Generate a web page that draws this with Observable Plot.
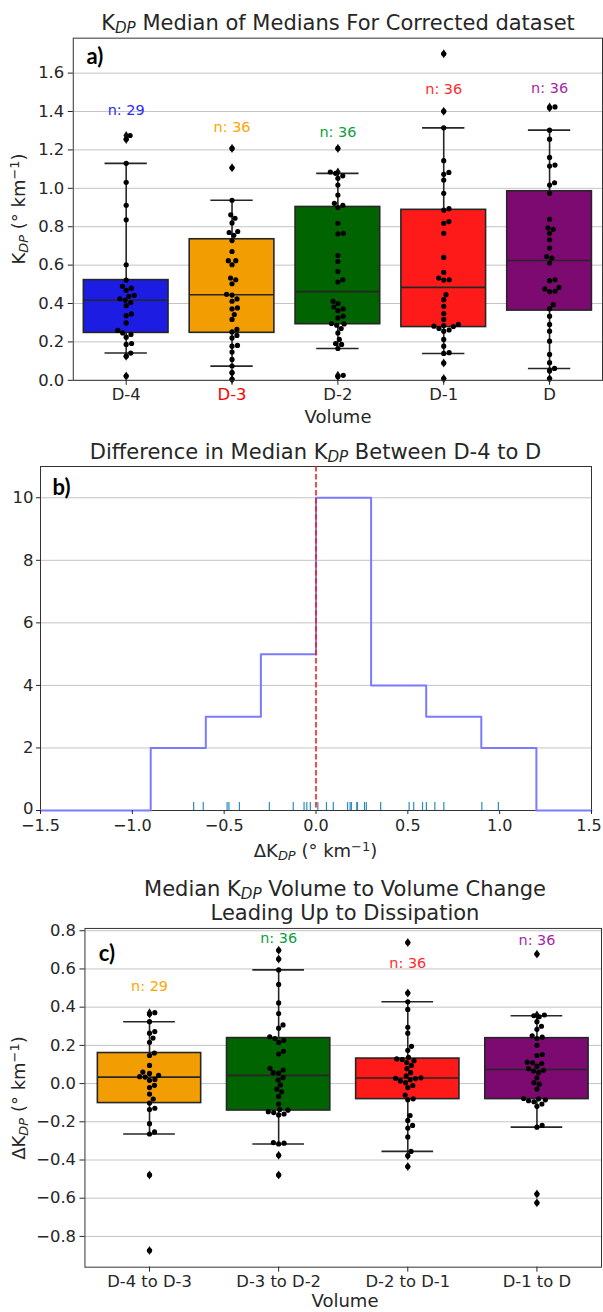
<!DOCTYPE html>
<html><head><meta charset="utf-8">
<script src="https://cdn.jsdelivr.net/npm/d3@7"></script>
<script src="https://cdn.jsdelivr.net/npm/@observablehq/plot@0.6"></script>
<style>
html,body{margin:0;padding:0;background:#fff;}
#root{position:relative;width:603px;height:1312px;overflow:hidden;font-family:"DejaVu Sans",sans-serif;color:#262626;background:#fff;}
.lbl{position:absolute;white-space:nowrap;transform:translate(-50%,-50%);line-height:1;text-align:center;}
.sub{font-size:0.72em;font-style:italic;position:relative;top:0.22em;line-height:0;}
.sup{font-size:0.72em;position:relative;top:-0.45em;line-height:0;}
.tag{font-family:Lato,"Open Sans",sans-serif;font-weight:bold;color:#000;}
svg.panel{position:absolute;left:0;}
</style></head>
<body><div id="root"></div>
<script>
// ---------- Panel a: KDP median of medians ----------
const volumeCats = ["D-4", "D-3", "D-2", "D-1", "D"];
const kdpD4 = [0.022, 0.126, 0.142, 0.187, 0.192, 0.225, 0.239, 0.247, 0.260, 0.299, 0.337, 0.346, 0.389, 0.405, 0.417, 0.425, 0.438, 0.443, 0.469, 0.480, 0.490, 0.522, 0.602, 0.836, 0.912, 1.031, 1.130, 1.255, 1.275];
const kdpD3 = [0.005, 0.040, 0.074, 0.109, 0.147, 0.178, 0.182, 0.221, 0.234, 0.252, 0.265, 0.317, 0.343, 0.372, 0.377, 0.412, 0.424, 0.444, 0.448, 0.503, 0.524, 0.533, 0.602, 0.623, 0.623, 0.671, 0.728, 0.755, 0.770, 0.775, 0.820, 0.844, 0.862, 0.938, 1.107, 1.208];
const kdpD2 = [0.020, 0.026, 0.166, 0.187, 0.192, 0.213, 0.247, 0.270, 0.287, 0.294, 0.296, 0.325, 0.334, 0.363, 0.372, 0.382, 0.400, 0.412, 0.512, 0.524, 0.567, 0.619, 0.650, 0.763, 0.766, 0.818, 0.900, 0.912, 0.922, 0.965, 1.017, 1.052, 1.065, 1.078, 1.085, 1.208];
const kdpD1 = [0.009, 0.090, 0.140, 0.144, 0.178, 0.213, 0.256, 0.262, 0.270, 0.280, 0.282, 0.285, 0.291, 0.317, 0.348, 0.386, 0.420, 0.446, 0.522, 0.524, 0.533, 0.562, 0.640, 0.766, 0.818, 0.827, 0.886, 0.894, 0.974, 1.043, 1.073, 1.083, 1.144, 1.315, 1.401, 1.701];
const kdpD0 = [0.009, 0.050, 0.062, 0.092, 0.135, 0.204, 0.256, 0.291, 0.334, 0.373, 0.394, 0.462, 0.464, 0.476, 0.484, 0.519, 0.524, 0.611, 0.637, 0.645, 0.689, 0.732, 0.766, 0.787, 0.794, 0.839, 0.974, 1.017, 1.029, 1.116, 1.121, 1.161, 1.256, 1.303, 1.420, 1.424];
const volumeFills = ["#1c1ce2", "#f29e02", "#006400", "#ff1a1a", "#7c0a70"];
const volumeCountColors = ["#2a2aff", "#ffa500", "#0aa03c", "#ff2a2a", "#a626a6"];
const volumeCountY = [1.405, 1.32, 1.29, 1.514, 1.52];
const kdpTicks = [0, 0.2, 0.4, 0.6, 0.8, 1.0, 1.2, 1.4, 1.6];

// ---------- Panel b: difference D-4 to D ----------
const deltaD4toD = [-0.666, -0.614, -0.484, -0.474, -0.417, -0.254, -0.124, -0.065, -0.050, -0.031, 0.010, 0.057, 0.094, 0.172, 0.186, 0.193, 0.222, 0.226, 0.264, 0.274, 0.352, 0.507, 0.532, 0.580, 0.601, 0.647, 0.696, 0.903, 0.993];
const binEdges = [-1.5, -1.2, -0.9, -0.6, -0.3, 0.0, 0.3, 0.6, 0.9, 1.2, 1.5];
const binCounts = [0, 0, 2, 3, 5, 10, 4, 3, 2, 0];
const histXTicks = [-1.5, -1.0, -0.5, 0.0, 0.5, 1.0, 1.5];
const histYTicks = [0, 2, 4, 6, 8, 10];

// ---------- Panel c: volume to volume change ----------
const changeCats = ["D-4 to D-3", "D-3 to D-2", "D-2 to D-1", "D-1 to D"];
const chgD4D3 = [-0.874, -0.478, -0.264, -0.253, -0.210, -0.136, -0.129, -0.102, -0.081, -0.055, -0.021, -0.009, 0.017, 0.022, 0.034, 0.036, 0.043, 0.053, 0.060, 0.095, 0.147, 0.160, 0.216, 0.238, 0.264, 0.272, 0.324, 0.364, 0.371];
const chgD3D2 = [-0.478, -0.375, -0.316, -0.312, -0.309, -0.164, -0.159, -0.152, -0.147, -0.139, -0.136, -0.107, -0.067, -0.043, -0.029, -0.007, 0.019, 0.031, 0.055, 0.057, 0.071, 0.080, 0.155, 0.169, 0.215, 0.226, 0.236, 0.245, 0.290, 0.307, 0.367, 0.422, 0.519, 0.595, 0.652, 0.698];
const chgD2D1 = [-0.434, -0.378, -0.355, -0.279, -0.233, -0.219, -0.193, -0.167, -0.085, -0.080, -0.060, -0.021, -0.010, 0.005, 0.014, 0.020, 0.026, 0.028, 0.030, 0.040, 0.057, 0.078, 0.095, 0.110, 0.120, 0.126, 0.129, 0.137, 0.174, 0.195, 0.264, 0.295, 0.388, 0.428, 0.474, 0.738];
const chgD1D0 = [-0.624, -0.578, -0.228, -0.219, -0.119, -0.107, -0.095, -0.090, -0.085, -0.080, -0.078, -0.029, -0.003, 0.005, 0.030, 0.057, 0.066, 0.070, 0.078, 0.091, 0.105, 0.109, 0.112, 0.147, 0.152, 0.200, 0.236, 0.243, 0.250, 0.284, 0.300, 0.324, 0.350, 0.355, 0.359, 0.678];
const changeFills = ["#f29e02", "#006400", "#ff1a1a", "#7c0a70"];
const changeCountColors = ["#ffa500", "#0aa03c", "#ff2a2a", "#a626a6"];
const changeCountY = [0.507, 0.758, 0.629, 0.750];
const changeTicks = [-0.8, -0.6, -0.4, -0.2, 0.0, 0.2, 0.4, 0.6, 0.8];

// ---------- helpers ----------
const root = document.getElementById("root");
const INK = "#262626";
const fmt1 = d3.format(".1f");

function boxStats(vals) {
  const s = vals.slice().sort(d3.ascending);
  const lo = d3.quantileSorted(s, 0.05), hi = d3.quantileSorted(s, 0.95);
  const whislo = d3.min(s.filter(v => v >= lo - 1e-12));
  const whishi = d3.max(s.filter(v => v <= hi + 1e-12));
  return {
    n: s.length,
    q1: d3.quantileSorted(s, 0.25), med: d3.quantileSorted(s, 0.5), q3: d3.quantileSorted(s, 0.75),
    whislo, whishi, fliers: s.filter(v => v < whislo || v > whishi)
  };
}

function swarm(vals, ypx, r) {
  const d = 2 * r + 0.3;
  const order = vals.map((v, k) => k).sort((a, b) => vals[a] - vals[b]);
  const placed = [], out = new Array(vals.length);
  for (const k of order) {
    const y = ypx(vals[k]);
    const near = placed.filter(p => Math.abs(p.y - y) < d);
    const cands = [0];
    for (const p of near) {
      const dx = Math.sqrt(d * d - (p.y - y) ** 2);
      cands.push(p.x + dx, p.x - dx);
    }
    cands.sort((a, b) => Math.abs(a) - Math.abs(b));
    let x = 0;
    for (const c of cands) {
      if (near.every(p => (p.x - c) ** 2 + (p.y - y) ** 2 >= d * d - 1e-6)) { x = c; break; }
    }
    placed.push({x, y});
    out[k] = x;
  }
  return out;
}

const thinDiamond = {
  draw(ctx, size) {
    const h = Math.sqrt(size) * 0.8, w = h * 0.62;
    ctx.moveTo(0, -h); ctx.lineTo(w, 0); ctx.lineTo(0, h); ctx.lineTo(-w, 0); ctx.closePath();
  }
};

const baseStyle = {fontFamily: "DejaVu Sans", fontSize: "16px", color: INK, background: "transparent", overflow: "visible"};

function boxPanel(cfg) {
  const {cats, series, fills, countY, countColors, ticks, domain, W, H, mt, mr, mb, ml} = cfg;
  const n = cats.length;
  const stats = series.map((v, i) => ({i, ...boxStats(v)}));
  const frameW = W - ml - mr, frameH = H - mt - mb;
  const step = frameW / n;
  const ypx = d3.scaleLinear(domain, [frameH, 0]);
  const r = 2.6;
  const dots = [];
  series.forEach((vals, i) => {
    const off = swarm(vals, ypx, r);
    vals.forEach((v, k) => dots.push({x: i + off[k] / step, y: v}));
  });
  const fliers = stats.flatMap(s => s.fliers.map(v => ({i: s.i, v})));
  const line = {stroke: INK, strokeWidth: 1.6};
  return Plot.plot({
    width: W, height: H, marginTop: mt, marginRight: mr, marginBottom: mb, marginLeft: ml,
    x: {domain: [-0.5, n - 0.5]},
    y: {domain},
    color: {type: "identity"},
    style: baseStyle,
    marks: [
      Plot.gridY(ticks, {stroke: "#c4c4c4", strokeOpacity: 1, strokeWidth: 1}),
      Plot.rect(stats, {x1: d => d.i - 0.4, x2: d => d.i + 0.4, y1: "q1", y2: "q3", fill: d => fills[d.i], ...line}),
      Plot.ruleX(stats, {x: "i", y1: "whislo", y2: "q1", ...line}),
      Plot.ruleX(stats, {x: "i", y1: "q3", y2: "whishi", ...line}),
      Plot.ruleY(stats, {y: "whislo", x1: d => d.i - 0.2, x2: d => d.i + 0.2, ...line}),
      Plot.ruleY(stats, {y: "whishi", x1: d => d.i - 0.2, x2: d => d.i + 0.2, ...line}),
      Plot.ruleY(stats, {y: "med", x1: d => d.i - 0.4, x2: d => d.i + 0.4, ...line}),
      Plot.dot(fliers, {x: "i", y: "v", symbol: thinDiamond, r: 3.2, fill: "#111", stroke: null}),
      Plot.dot(dots, {x: "x", y: "y", r, fill: "#000", stroke: null}),
      Plot.text(stats, {x: "i", y: d => countY[d.i], text: d => `n: ${d.n}`, fill: d => countColors[d.i], fontSize: 14.5}),
      Plot.frame({stroke: "#333", strokeWidth: 1}),
      Plot.axisY(ticks, {tickFormat: fmt1, tickSize: 5, tickPadding: 4, label: null, fontSize: 16.5}),
      Plot.axisX(d3.range(n), {tickFormat: i => cats[i], tickSize: 5, tickPadding: 3, label: null, fontSize: 16.5})
    ]
  });
}

function place(svg, top) {
  svg.classList.add("panel");
  svg.style.top = top + "px";
  root.appendChild(svg);
  return svg;
}

function label(html, x, y, px, opts = {}) {
  const el = document.createElement("div");
  el.className = "lbl" + (opts.tag ? " tag" : "");
  el.innerHTML = html;
  el.style.left = x + "px";
  el.style.top = y + "px";
  el.style.fontSize = px + "px";
  if (opts.lineHeight) el.style.lineHeight = opts.lineHeight;
  if (opts.rotate) el.style.transform = "translate(-50%,-50%) rotate(-90deg)";
  root.appendChild(el);
}

const KDP = 'K<span class="sub">DP</span>';
const UNIT = '(° km<span class="sup">−1</span>)';

// ---------- draw panel a ----------
const svgA = place(boxPanel({
  cats: volumeCats, series: [kdpD4, kdpD3, kdpD2, kdpD1, kdpD0],
  fills: volumeFills, countY: volumeCountY, countColors: volumeCountColors,
  ticks: kdpTicks, domain: [0, 1.782],
  W: 605, H: 400, mt: 7.7, mr: 1, mb: 49, ml: 73
}), 30);
svgA.querySelectorAll("text").forEach(t => { if (t.textContent === "D-3") { t.style.fill = "red"; t.setAttribute("fill", "red"); } });

// ---------- draw panel b ----------
const histPts = binEdges.map((e, k) => ({x: e, y: k < binCounts.length ? binCounts[k] : 0}));
const bH = 420, bMt = 26, bMb = 50;
const svgB = place(Plot.plot({
  width: 603, height: bH, marginTop: bMt, marginRight: 12, marginBottom: bMb, marginLeft: 40,
  x: {domain: [-1.5, 1.5]},
  y: {domain: [0, 11]},
  style: baseStyle,
  marks: [
    Plot.gridY(histYTicks, {stroke: "#c4c4c4", strokeOpacity: 1, strokeWidth: 1}),
    Plot.frame({stroke: "#333", strokeWidth: 1}),
    Plot.line(histPts, {x: "x", y: "y", curve: "step-after", stroke: "#7b7bff", strokeWidth: 2}),
    Plot.tickX(deltaD4toD, {x: d => d, stroke: "#2b8cc8", strokeWidth: 1.2, insetTop: bH - bMt - bMb - 8}),
    Plot.ruleX([0], {stroke: "#ff1a1a", strokeWidth: 1.6, strokeDasharray: "5.5,2.5"}),
    Plot.axisY(histYTicks, {tickFormat: d3.format("d"), tickSize: 4, tickPadding: 3, label: null, fontSize: 16.5}),
    Plot.axisX(histXTicks, {tickFormat: fmt1, tickSize: 4, tickPadding: 5, label: null, fontSize: 16})
  ]
}), 440);
// keep corner tick labels clear of each other and inside the 603px window
svgB.querySelectorAll("text").forEach(t => {
  if (t.textContent === "1.5") t.setAttribute("dx", "-2.5");
  if (t.textContent === "0") t.setAttribute("dy", "-2");
});

// ---------- draw panel c ----------
place(boxPanel({
  cats: changeCats, series: [chgD4D3, chgD3D2, chgD2D1, chgD1D0],
  fills: changeFills, countY: changeCountY, countColors: changeCountColors,
  ticks: changeTicks, domain: [-0.961, 0.812],
  W: 607, H: 392, mt: 8, mr: 2, mb: 43, ml: 85
}), 920);

// ---------- titles and axis labels ----------
label(`${KDP} Median of Medians For Corrected dataset`, 338, 23, 21);
label(`${KDP} ${UNIT}`, 19, 209, 18, {rotate: true});
label("Volume", 338, 417, 18);
label("a)", 95, 56, 22, {tag: true});

label(`Difference in Median ${KDP} Between D-4 to D`, 315.5, 452, 21);
label(`ΔK<span class="sub">DP</span> ${UNIT}`, 315.5, 851, 18);
label("b)", 61.5, 487, 22, {tag: true});

label(`Median ${KDP} Volume to Volume Change<br>Leading Up to Dissipation`, 345, 901, 21, {lineHeight: "24px"});
label(`ΔK<span class="sub">DP</span> ${UNIT}`, 19, 1098, 18, {rotate: true});
label("Volume", 345, 1301, 18);
label("c)", 107, 953, 22, {tag: true});
</script></body></html>
